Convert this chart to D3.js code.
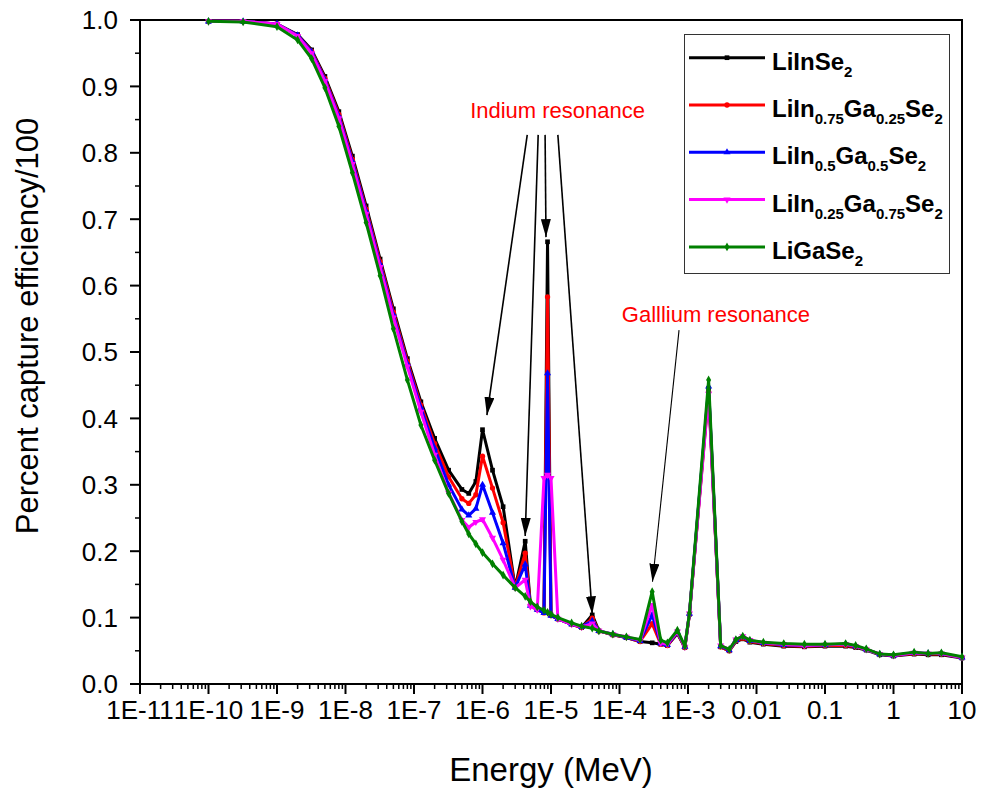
<!DOCTYPE html>
<html lang="en">
<head>
  <meta charset="UTF-8">
  <title>Capture efficiency vs energy</title>
  <style>
    body { margin: 0; background: #fff; }
    svg { display: block; font-family: Arial, "Liberation Sans", sans-serif; }
    .tick-label { font-size: 26px; fill: #000; }
    .axis-title { font-size: 31px; fill: #000; }
    .x-title { font-size: 33px; }
    .note { font-size: 22px; fill: #ff0000; }
    .legend-text { font-size: 24px; font-weight: bold; fill: #000; }
  </style>
</head>
<body>
  <svg width="984" height="791"></svg>

  <script src="https://d3js.org/d3.v7.min.js"></script>
  <script>
    // energy grid (MeV) shared by all five compositions
    const energy = [1e-10, 3.2e-10, 1e-9, 2e-9, 3.2e-9, 5e-9, 8e-9, 1.26e-8, 2e-8, 3.2e-8,
      5e-8, 8e-8, 1.26e-7, 2e-7, 3.2e-7, 5e-7, 6.3e-7, 8e-7, 1e-6, 1.4e-6,
      2e-6, 3e-6, 4.2e-6, 5e-6, 6.3e-6, 7.9e-6, 8.9e-6, 1e-5, 1.26e-5, 2e-5,
      2.8e-5, 4e-5, 5e-5, 8e-5, 1.26e-4, 2e-4, 3e-4, 4e-4, 5e-4, 7e-4,
      9e-4, 1.05e-3, 2e-3, 3e-3, 4e-3, 5e-3, 6.3e-3, 8e-3, 0.0126, 0.025,
      0.05, 0.1, 0.2, 0.28, 0.4, 0.63, 1, 2, 3.2, 5, 10];

    const liInSe2 = [0.998, 0.998, 0.994, 0.978, 0.955, 0.915, 0.862, 0.795, 0.72, 0.64,
      0.565, 0.49, 0.425, 0.37, 0.322, 0.293, 0.287, 0.305, 0.383, 0.322,
      0.267, 0.145, 0.215, 0.12, 0.113, 0.108, 0.666, 0.104, 0.098, 0.09,
      0.085, 0.104, 0.08, 0.074, 0.07, 0.064, 0.062, 0.06, 0.058, 0.076,
      0.055, 0.105, 0.445, 0.056, 0.05, 0.064, 0.068, 0.063, 0.06, 0.057,
      0.056, 0.057, 0.057, 0.055, 0.051, 0.044, 0.042, 0.045, 0.044, 0.044, 0.039];

    const liIn75Ga25Se2 = [0.998, 0.998, 0.994, 0.977, 0.953, 0.912, 0.858, 0.79, 0.715, 0.636,
      0.56, 0.486, 0.42, 0.362, 0.312, 0.279, 0.272, 0.285, 0.343, 0.295,
      0.243, 0.145, 0.197, 0.119, 0.112, 0.107, 0.583, 0.103, 0.098, 0.09,
      0.085, 0.099, 0.08, 0.074, 0.07, 0.064, 0.091, 0.06, 0.058, 0.077,
      0.055, 0.105, 0.44, 0.056, 0.05, 0.065, 0.069, 0.064, 0.061, 0.058,
      0.057, 0.058, 0.058, 0.056, 0.052, 0.045, 0.043, 0.046, 0.045, 0.045, 0.04];

    const liIn5Ga5Se2 = [0.998, 0.998, 0.994, 0.977, 0.952, 0.91, 0.855, 0.787, 0.712, 0.632,
      0.556, 0.482, 0.416, 0.355, 0.3, 0.263, 0.254, 0.264, 0.3, 0.258,
      0.212, 0.145, 0.18, 0.118, 0.112, 0.107, 0.468, 0.103, 0.098, 0.09,
      0.086, 0.095, 0.08, 0.075, 0.07, 0.065, 0.104, 0.061, 0.059, 0.078,
      0.056, 0.106, 0.448, 0.057, 0.051, 0.066, 0.071, 0.065, 0.062, 0.059,
      0.058, 0.059, 0.06, 0.057, 0.052, 0.045, 0.043, 0.047, 0.046, 0.046, 0.04];

    const liIn25Ga75Se2 = [0.998, 0.998, 0.994, 0.976, 0.95, 0.908, 0.852, 0.783, 0.708, 0.628,
      0.552, 0.478, 0.41, 0.345, 0.288, 0.247, 0.236, 0.244, 0.248, 0.22,
      0.187, 0.145, 0.157, 0.117, 0.112, 0.31, 0.315, 0.31, 0.098, 0.09,
      0.086, 0.091, 0.08, 0.075, 0.071, 0.066, 0.119, 0.062, 0.06, 0.079,
      0.056, 0.106, 0.437, 0.058, 0.052, 0.067, 0.072, 0.066, 0.062, 0.06,
      0.058, 0.059, 0.06, 0.057, 0.052, 0.045, 0.043, 0.047, 0.046, 0.046, 0.04];

    const liGaSe2 = [0.998, 0.997, 0.99, 0.97, 0.942, 0.898, 0.84, 0.77, 0.695, 0.615,
      0.535, 0.458, 0.39, 0.337, 0.287, 0.245, 0.226, 0.211, 0.198, 0.181,
      0.164, 0.145, 0.132, 0.124, 0.116, 0.111, 0.108, 0.105, 0.1, 0.092,
      0.087, 0.084, 0.08, 0.075, 0.071, 0.067, 0.139, 0.066, 0.062, 0.081,
      0.057, 0.107, 0.458, 0.058, 0.052, 0.067, 0.072, 0.066, 0.063, 0.061,
      0.06, 0.06, 0.061, 0.058, 0.053, 0.045, 0.044, 0.048, 0.046, 0.047, 0.041];

    // legend names: [main, subscript, main, subscript, ...]
    const seriesNames = [
      ["LiInSe", "2"],
      ["LiIn", "0.75", "Ga", "0.25", "Se", "2"],
      ["LiIn", "0.5", "Ga", "0.5", "Se", "2"],
      ["LiIn", "0.25", "Ga", "0.75", "Se", "2"],
      ["LiGaSe", "2"]
    ];
    const seriesValues = [liInSe2, liIn75Ga25Se2, liIn5Ga5Se2, liIn25Ga75Se2, liGaSe2];
    const seriesColors = ["#000000", "#ff0000", "#0000ff", "#ff00ff", "#008000"];
    const seriesSymbols = ["square", "circle", "triangleUp", "triangleDown", "diamond"];

    const xTickValues = [1e-11, 1e-10, 1e-9, 1e-8, 1e-7, 1e-6, 1e-5, 1e-4, 1e-3, 0.01, 0.1, 1, 10];
    const xTickLabels = ["1E-11", "1E-10", "1E-9", "1E-8", "1E-7", "1E-6", "1E-5", "1E-4", "1E-3", "0.01", "0.1", "1", "10"];
    const yTickValues = [0, 0.1, 0.2, 0.3, 0.4, 0.5, 0.6, 0.7, 0.8, 0.9, 1.0];

    // annotations in data coordinates: [energy, value]
    const indiumText = { label: "Indium resonance", at: [6.6e-7, 0.852] };
    const indiumArrows = [
      [[4.5e-6, 0.827], [1.16e-6, 0.405]],
      [[6.5e-6, 0.827], [4.2e-6, 0.223]],
      [[8.2e-6, 0.827], [8.45e-6, 0.673]],
      [[1.26e-5, 0.827], [4e-5, 0.105]]
    ];
    const galliumText = { label: "Galllium resonance", at: [1.08e-4, 0.545] };
    const galliumArrows = [[[7.4e-4, 0.533], [3.03e-4, 0.154]]];

    const width = 984, height = 791;
    const margin = { left: 140, right: 22, top: 20, bottom: 107 };
    const plotW = width - margin.left - margin.right;
    const plotH = height - margin.top - margin.bottom;

    const svg = d3.select("svg");

    const x = d3.scaleLog().domain([1e-11, 10]).range([margin.left, margin.left + plotW]);
    const y = d3.scaleLinear().domain([0, 1]).range([margin.top + plotH, margin.top]);

    // frame (top + right)
    svg.append("path")
      .attr("d", `M${margin.left},${margin.top}H${margin.left + plotW}V${margin.top + plotH}`)
      .attr("fill", "none")
      .attr("stroke", "#000")
      .attr("stroke-width", 2);

    // x axis
    const xAxis = svg.append("g").attr("transform", `translate(0,${margin.top + plotH})`);
    xAxis.append("line")
      .attr("x1", margin.left).attr("x2", margin.left + plotW)
      .attr("stroke", "#000").attr("stroke-width", 2);

    const minorX = [];
    xTickValues.slice(0, -1).forEach(d => {
      for (let k = 2; k <= 9; k++) minorX.push(d * k);
    });
    xAxis.selectAll(".xminor").data(minorX).join("line")
      .attr("x1", d => x(d)).attr("x2", d => x(d))
      .attr("y1", 0).attr("y2", 5)
      .attr("stroke", "#000").attr("stroke-width", 1.5);
    xAxis.selectAll(".xmajor").data(xTickValues).join("line")
      .attr("x1", d => x(d)).attr("x2", d => x(d))
      .attr("y1", 0).attr("y2", 10)
      .attr("stroke", "#000").attr("stroke-width", 2);
    xAxis.selectAll(".xlabel").data(xTickValues).join("text")
      .attr("class", "tick-label")
      .attr("x", d => x(d))
      .attr("y", 35)
      .attr("text-anchor", "middle")
      .text((d, i) => xTickLabels[i]);

    // y axis
    const yAxis = svg.append("g").attr("transform", `translate(${margin.left},0)`);
    yAxis.append("line")
      .attr("y1", margin.top).attr("y2", margin.top + plotH)
      .attr("stroke", "#000").attr("stroke-width", 2);
    const minorY = yTickValues.slice(0, -1).map(d => d + 0.05);
    yAxis.selectAll(".yminor").data(minorY).join("line")
      .attr("y1", d => y(d)).attr("y2", d => y(d))
      .attr("x1", 0).attr("x2", -5)
      .attr("stroke", "#000").attr("stroke-width", 1.5);
    yAxis.selectAll(".ymajor").data(yTickValues).join("line")
      .attr("y1", d => y(d)).attr("y2", d => y(d))
      .attr("x1", 0).attr("x2", -10)
      .attr("stroke", "#000").attr("stroke-width", 2);
    yAxis.selectAll(".ylabel").data(yTickValues).join("text")
      .attr("class", "tick-label")
      .attr("x", -22)
      .attr("y", d => y(d))
      .attr("dy", "0.36em")
      .attr("text-anchor", "end")
      .text(d => d3.format(".1f")(d));

    // axis titles
    svg.append("text")
      .attr("class", "axis-title x-title")
      .attr("x", 551)
      .attr("y", 781)
      .attr("text-anchor", "middle")
      .text("Energy (MeV)");
    svg.append("text")
      .attr("class", "axis-title")
      .attr("transform", "translate(38,326) rotate(-90)")
      .attr("text-anchor", "middle")
      .text("Percent capture efficiency/100");

    // data lines
    const symbolTypes = {
      square: d3.symbolSquare,
      circle: d3.symbolCircle,
      triangleUp: d3.symbolTriangle,
      triangleDown: d3.symbolTriangle,
      diamond: d3.symbolDiamond
    };
    const line = d3.line().x(d => x(d[0])).y(d => y(d[1]));

    seriesValues.forEach((vals, i) => {
      const pts = energy.map((e, j) => [e, vals[j]]);
      const g = svg.append("g");
      g.append("path")
        .datum(pts)
        .attr("d", line)
        .attr("fill", "none")
        .attr("stroke", seriesColors[i])
        .attr("stroke-width", 3)
        .attr("stroke-linejoin", "round");
      g.selectAll("path.pt").data(pts).join("path")
        .attr("class", "pt")
        .attr("d", d3.symbol().type(symbolTypes[seriesSymbols[i]]).size(22))
        .attr("transform", d => `translate(${x(d[0])},${y(d[1])})` + (seriesSymbols[i] === "triangleDown" ? " rotate(180)" : ""))
        .attr("fill", seriesColors[i]);
    });

    // annotations
    svg.append("defs").append("marker")
      .attr("id", "head")
      .attr("viewBox", "0 0 18 10")
      .attr("refX", 18).attr("refY", 5)
      .attr("markerWidth", 18).attr("markerHeight", 10)
      .attr("markerUnits", "userSpaceOnUse")
      .attr("orient", "auto")
      .append("path")
      .attr("d", "M0,0L18,5L0,10Z")
      .attr("fill", "#000");

    const drawArrows = (arrows, w) => {
      svg.append("g").selectAll("line").data(arrows).join("line")
        .attr("x1", d => x(d[0][0])).attr("y1", d => y(d[0][1]))
        .attr("x2", d => x(d[1][0])).attr("y2", d => y(d[1][1]))
        .attr("stroke", "#000")
        .attr("stroke-width", w)
        .attr("marker-end", "url(#head)");
    };
    drawArrows(indiumArrows, 1.6);
    drawArrows(galliumArrows, 1.1);

    [indiumText, galliumText].forEach(t => {
      svg.append("text")
        .attr("class", "note")
        .attr("x", x(t.at[0]))
        .attr("y", y(t.at[1]))
        .text(t.label);
    });

    // legend
    const legend = svg.append("g");
    legend.append("rect")
      .attr("x", 684.5).attr("y", 34.5)
      .attr("width", 265).attr("height", 239)
      .attr("fill", "#fff")
      .attr("stroke", "#333")
      .attr("stroke-width", 1);

    seriesNames.forEach((parts, i) => {
      const cy = 57.7 + i * 47.3;
      const row = legend.append("g");
      row.append("line")
        .attr("x1", 689).attr("x2", 765)
        .attr("y1", cy).attr("y2", cy)
        .attr("stroke", seriesColors[i])
        .attr("stroke-width", 3);
      row.append("path")
        .attr("d", d3.symbol().type(symbolTypes[seriesSymbols[i]]).size(22))
        .attr("transform", `translate(727,${cy})` + (seriesSymbols[i] === "triangleDown" ? " rotate(180)" : ""))
        .attr("fill", seriesColors[i]);
      const txt = row.append("text")
        .attr("class", "legend-text")
        .attr("x", 772)
        .attr("y", cy + 12);
      parts.forEach((p, k) => {
        const sub = k % 2 === 1;
        txt.append("tspan")
          .attr("font-size", sub ? "15px" : "24px")
          .attr("dy", k === 0 ? 0 : (sub ? 7 : -7))
          .text(p);
      });
    });
  </script>
</body>
</html>
